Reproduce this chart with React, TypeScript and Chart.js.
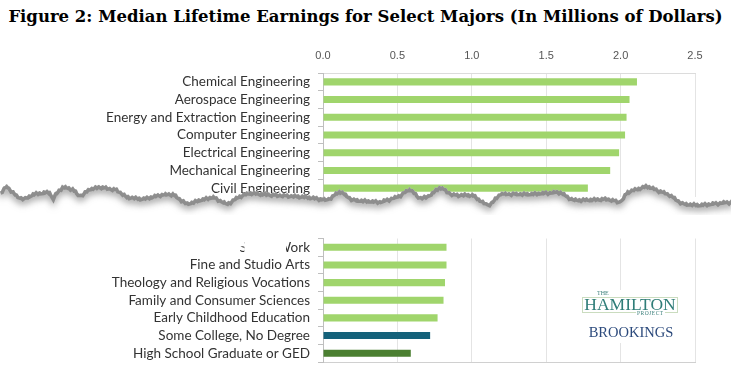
import React, { useEffect, useRef } from "react";
import { Chart, registerables } from "chart.js";
Chart.register(...registerables);

const titleText = "Figure 2: Median Lifetime Earnings for Select Majors (In Millions of Dollars)";
const axisMax = 2.5;
const axisStep = 0.5;

const topMajors = [
  "Chemical Engineering",
  "Aerospace Engineering",
  "Energy and Extraction Engineering",
  "Computer Engineering",
  "Electrical Engineering",
  "Mechanical Engineering",
  "Civil Engineering",
];
const topValues = [2.11, 2.06, 2.04, 2.03, 1.99, 1.93, 1.78];

const bottomMajors = [
  "Social Work",
  "Fine and Studio Arts",
  "Theology and Religious Vocations",
  "Family and Consumer Sciences",
  "Early Childhood Education",
  "Some College, No Degree",
  "High School Graduate or GED",
];
const bottomValues = [0.83, 0.83, 0.82, 0.81, 0.77, 0.72, 0.59];

const GREEN = "#a0d56c";
const TEAL = "#14617a";
const DARK_GREEN = "#4b7f31";
const bottomColors = [GREEN, GREEN, GREEN, GREEN, GREEN, TEAL, DARK_GREEN];

// decorative torn-paper edge (canvas pixel anchors, not data)
const tearAnchors: [number, number][] = [
  [0, 191], [4, 186], [8, 185], [13, 190], [18, 195], [25, 197], [33, 192],
  [50, 190], [53, 195], [62, 185], [73, 187], [80, 194], [90, 187], [100, 185],
  [117, 188], [127, 195], [143, 197], [160, 193], [173, 192], [187, 202],
  [200, 198], [213, 195], [227, 202], [240, 194], [250, 191], [273, 193],
  [307, 195], [320, 197], [327, 198], [340, 189], [353, 198], [380, 200],
  [397, 195], [410, 187], [420, 196], [427, 195], [440, 185], [453, 193],
  [473, 193], [487, 203], [490, 202], [500, 192], [530, 192], [560, 190],
  [573, 198], [580, 198], [607, 197], [620, 200], [627, 190], [647, 184],
  [657, 188], [670, 193], [683, 202], [700, 203], [731, 200],
];

function tearY(x: number): number {
  let y = tearAnchors[tearAnchors.length - 1][1];
  for (let i = 0; i < tearAnchors.length - 1; i++) {
    const [x0, y0] = tearAnchors[i];
    const [x1, y1] = tearAnchors[i + 1];
    if (x >= x0 && x <= x1) {
      y = y0 + ((y1 - y0) * (x - x0)) / (x1 - x0);
      break;
    }
  }
  return y + 0.8 * Math.sin(x * 1.7) + 0.5 * Math.sin(x * 0.63 + 1);
}

const tearPlugin = {
  id: "tear",
  afterDraw(chart: any) {
    const ctx = chart.ctx as CanvasRenderingContext2D;
    const w = chart.width;
    const h = chart.height;
    const path = () => {
      ctx.beginPath();
      ctx.moveTo(0, tearY(0));
      for (let x = 1; x <= w; x += 1) ctx.lineTo(x, tearY(x));
    };
    ctx.save();
    path();
    ctx.lineTo(w, h);
    ctx.lineTo(0, h);
    ctx.closePath();
    ctx.fillStyle = "#ffffff";
    ctx.fill();
    ctx.clip();
    path();
    ctx.strokeStyle = "rgba(135,135,135,0.9)";
    ctx.lineWidth = 7;
    ctx.shadowColor = "rgba(120,120,120,0.65)";
    ctx.shadowBlur = 6;
    ctx.shadowOffsetY = 4;
    ctx.stroke();
    ctx.restore();
  },
};

const LABEL_FONT = { family: "Lato, 'Liberation Sans', sans-serif", size: 13.5 };

const maskPlugin = {
  id: "mask",
  afterDraw(chart: any) {
    const ctx = chart.ctx as CanvasRenderingContext2D;
    const ys = chart.scales.y;
    const cy = ys.getPixelForValue(0);
    const right = ys.right - 5 - 8;
    ctx.save();
    ctx.font = `${LABEL_FONT.size}px ${LABEL_FONT.family}`;
    const w = ctx.measureText(bottomMajors[0]).width;
    const start = right - w;
    ctx.fillStyle = "#ffffff";
    ctx.fillRect(start - 2, cy - 10, 7, 9);
    ctx.fillRect(start + 5, cy - 10, right - 24 - (start + 5), 20);
    ctx.restore();
  },
};

const AXIS_GRAY = "#bfbfbf";
const GRID_GRAY = "#e4e4e4";

function makeOptions(isTop: boolean): any {
  return {
    indexAxis: "y",
    animation: false,
    responsive: false,
    maintainAspectRatio: false,
    layout: {
      padding: isTop
        ? { left: 0, right: 36, top: 0, bottom: 18 }
        : { left: 0, right: 36, top: 23.5, bottom: 25 },
    },
    plugins: {
      legend: { display: false },
      title: { display: false },
      tooltip: { enabled: false },
    },
    scales: {
      x: {
        position: isTop ? "top" : "bottom",
        min: 0,
        max: axisMax,
        ticks: {
          display: isTop,
          stepSize: axisStep,
          padding: 10,
          color: "#555",
          font: { family: "'Liberation Sans', Arial, sans-serif", size: 11 },
          callback: (v: any) => Number(v).toFixed(1),
        },
        grid: { color: GRID_GRAY, drawTicks: false, lineWidth: 1 },
        border: { display: true, color: isTop ? "#dcdcdc" : "#d0d0d0" },
        afterFit: (s: any) => {
          s.height = isTop ? 73 : 0;
        },
      },
      y: {
        ticks: {
          color: "#333",
          padding: 8,
          autoSkip: false,
          font: LABEL_FONT,
        },
        grid: {
          display: true,
          drawOnChartArea: false,
          drawTicks: true,
          tickLength: 5,
          color: AXIS_GRAY,
        },
        border: { display: true, color: AXIS_GRAY },
        afterFit: (s: any) => {
          s.width = 323;
        },
      },
    },
  };
}

function BarChart(props: { isTop: boolean; height: number; top: number }) {
  const ref = useRef<HTMLCanvasElement | null>(null);
  useEffect(() => {
    if (!ref.current) return;
    const isTop = props.isTop;
    const chart = new Chart(ref.current, {
      type: "bar",
      data: {
        labels: isTop ? topMajors : bottomMajors,
        datasets: [
          {
            data: isTop ? topValues : bottomValues,
            backgroundColor: isTop ? GREEN : bottomColors,
            borderWidth: 0,
            categoryPercentage: 1,
            barPercentage: 0.4,
          },
        ],
      },
      options: makeOptions(isTop),
      plugins: isTop ? [tearPlugin] : [maskPlugin],
    } as any);
    return () => chart.destroy();
  }, []);
  return (
    <canvas
      ref={ref}
      width={731}
      height={props.height}
      style={{ position: "absolute", left: 0, top: props.top, width: 731, height: props.height }}
    />
  );
}

const serif = "'Liberation Serif', 'Times New Roman', serif";

export default function App() {
  return (
    <div style={{ position: "absolute", left: 0, top: 0, width: 731, height: 387, background: "#fff", overflow: "hidden" }}>
      <div
        style={{
          position: "absolute",
          top: 6,
          left: 0,
          width: 731,
          textAlign: "center",
          fontFamily: "'DejaVu Serif', serif",
          fontWeight: "bold",
          fontSize: 16.5,
          lineHeight: "22px",
          color: "#000",
          whiteSpace: "nowrap",
        }}
      >
        {titleText}
      </div>
      <BarChart isTop={true} height={215} top={0} />
      <BarChart isTop={false} height={172} top={215} />
      <div style={{ position: "absolute", left: 578, top: 290, width: 106, height: 53, background: "#fff" }} />
      <div style={{ position: "absolute", left: 582, top: 297, width: 96, height: 16, border: "1.5px solid #cadcbf", boxSizing: "border-box" }} />
      <div style={{ position: "absolute", left: 596, top: 290, fontFamily: serif, fontSize: 6, lineHeight: "7px", color: "#3a7f7a", background: "#fff", padding: "0 1px" }}>THE</div>
      <div style={{ position: "absolute", left: 578, top: 295, width: 104, textAlign: "center", fontFamily: serif, fontSize: 17.5, lineHeight: "19px", color: "#2f7d78", whiteSpace: "nowrap" }}>HAMILTON</div>
      <div style={{ position: "absolute", left: 636, top: 310, fontFamily: serif, fontSize: 5.5, lineHeight: "6px", color: "#3a7f7a", background: "#fff", padding: "0 1px", letterSpacing: 0.5 }}>PROJECT</div>
      <div style={{ position: "absolute", left: 576, top: 324, width: 110, textAlign: "center", fontFamily: serif, fontSize: 14.5, lineHeight: "17px", color: "#2c4a7c", whiteSpace: "nowrap" }}>BROOKINGS</div>
    </div>
  );
}
